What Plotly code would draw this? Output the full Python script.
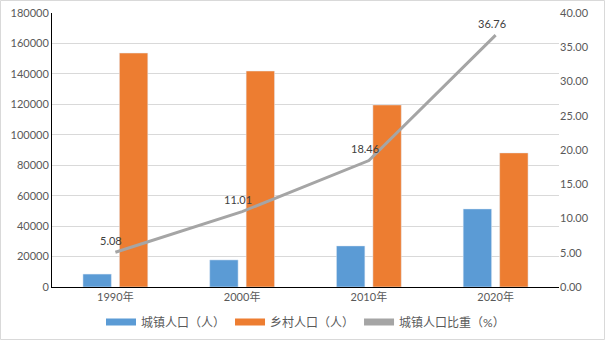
import plotly.graph_objects as go

categories = ["1990年", "2000年", "2010年", "2020年"]
urban_pop = [8500, 17800, 27000, 51300]
rural_pop = [153700, 141900, 119600, 88100]
urban_ratio = [5.08, 11.01, 18.46, 36.76]
ratio_labels = ["5.08", "11.01", "18.46", "36.76"]

names = ["城镇人口（人）", "乡村人口（人）", "城镇人口比重（%）"]
colors = ["#5b9bd5", "#ed7d31", "#a5a5a5"]

FONT = "Lato, 'Noto Sans CJK SC', sans-serif"
GREY = "#595959"

fig = go.Figure()
fig.add_trace(go.Bar(x=categories, y=urban_pop, name=names[0], marker_color=colors[0],
                     showlegend=False, yaxis="y"))
fig.add_trace(go.Bar(x=categories, y=rural_pop, name=names[1], marker_color=colors[1],
                     showlegend=False, yaxis="y"))
fig.add_trace(go.Scatter(x=categories, y=urban_ratio, name=names[2], mode="lines",
                         line=dict(color=colors[2], width=3), showlegend=False, yaxis="y2"))

# legend proxies (wide rectangular swatches)
for n, c in zip(names, colors):
    fig.add_trace(go.Scatter(x=[None], y=[None], name=n, mode="lines",
                             line=dict(color=c, width=7), showlegend=True, yaxis="y"))

for cat, v, t in zip(categories, urban_ratio, ratio_labels):
    fig.add_annotation(x=cat, y=v, xref="x", yref="y2", text=t, showarrow=False,
                       xshift=-4, yshift=12, font=dict(family=FONT, size=11, color="#404040"))

L, R, T, B = 52, 46, 13, 53
W, H = 605, 340
pw, ph = W - L - R, H - T - B

fig.add_shape(type="rect", xref="paper", yref="paper",
              x0=-(L - 0.5) / pw, x1=(W - 0.5 - L) / pw,
              y0=-(B - 0.5) / ph, y1=(ph + T - 0.5) / ph,
              line=dict(color="#d9d9d9", width=1), fillcolor="rgba(0,0,0,0)", layer="below")

fig.update_layout(
    width=W, height=H,
    margin=dict(l=L, r=R, t=T, b=B, autoexpand=False),
    paper_bgcolor="white", plot_bgcolor="white",
    barmode="group", bargap=0.425, bargroupgap=0.22,
    font=dict(family=FONT, size=11, color=GREY),
    xaxis=dict(type="category", showline=True, linecolor="black", linewidth=1,
               ticks="", showgrid=False, automargin=False, tickfont=dict(size=11, color=GREY)),
    yaxis=dict(range=[0, 180000], dtick=20000, showgrid=True, gridcolor="#d9d9d9",
               gridwidth=1, showline=True, linecolor="black", linewidth=1, automargin=False,
               ticks="", tickformat="d", zeroline=False, tickfont=dict(size=11, color=GREY)),
    yaxis2=dict(range=[0, 40], dtick=5, overlaying="y", side="right", showgrid=False,
                showline=False, ticks="", tickformat=".2f", zeroline=False, automargin=False,
                tickfont=dict(size=11, color=GREY)),
    legend=dict(orientation="h", x=0.5, xanchor="center", y=-(322 - 287) / ph,
                yanchor="middle", font=dict(size=12, color=GREY), itemwidth=30,
                bgcolor="rgba(0,0,0,0)"),
)

fig.write_html("out.html")
